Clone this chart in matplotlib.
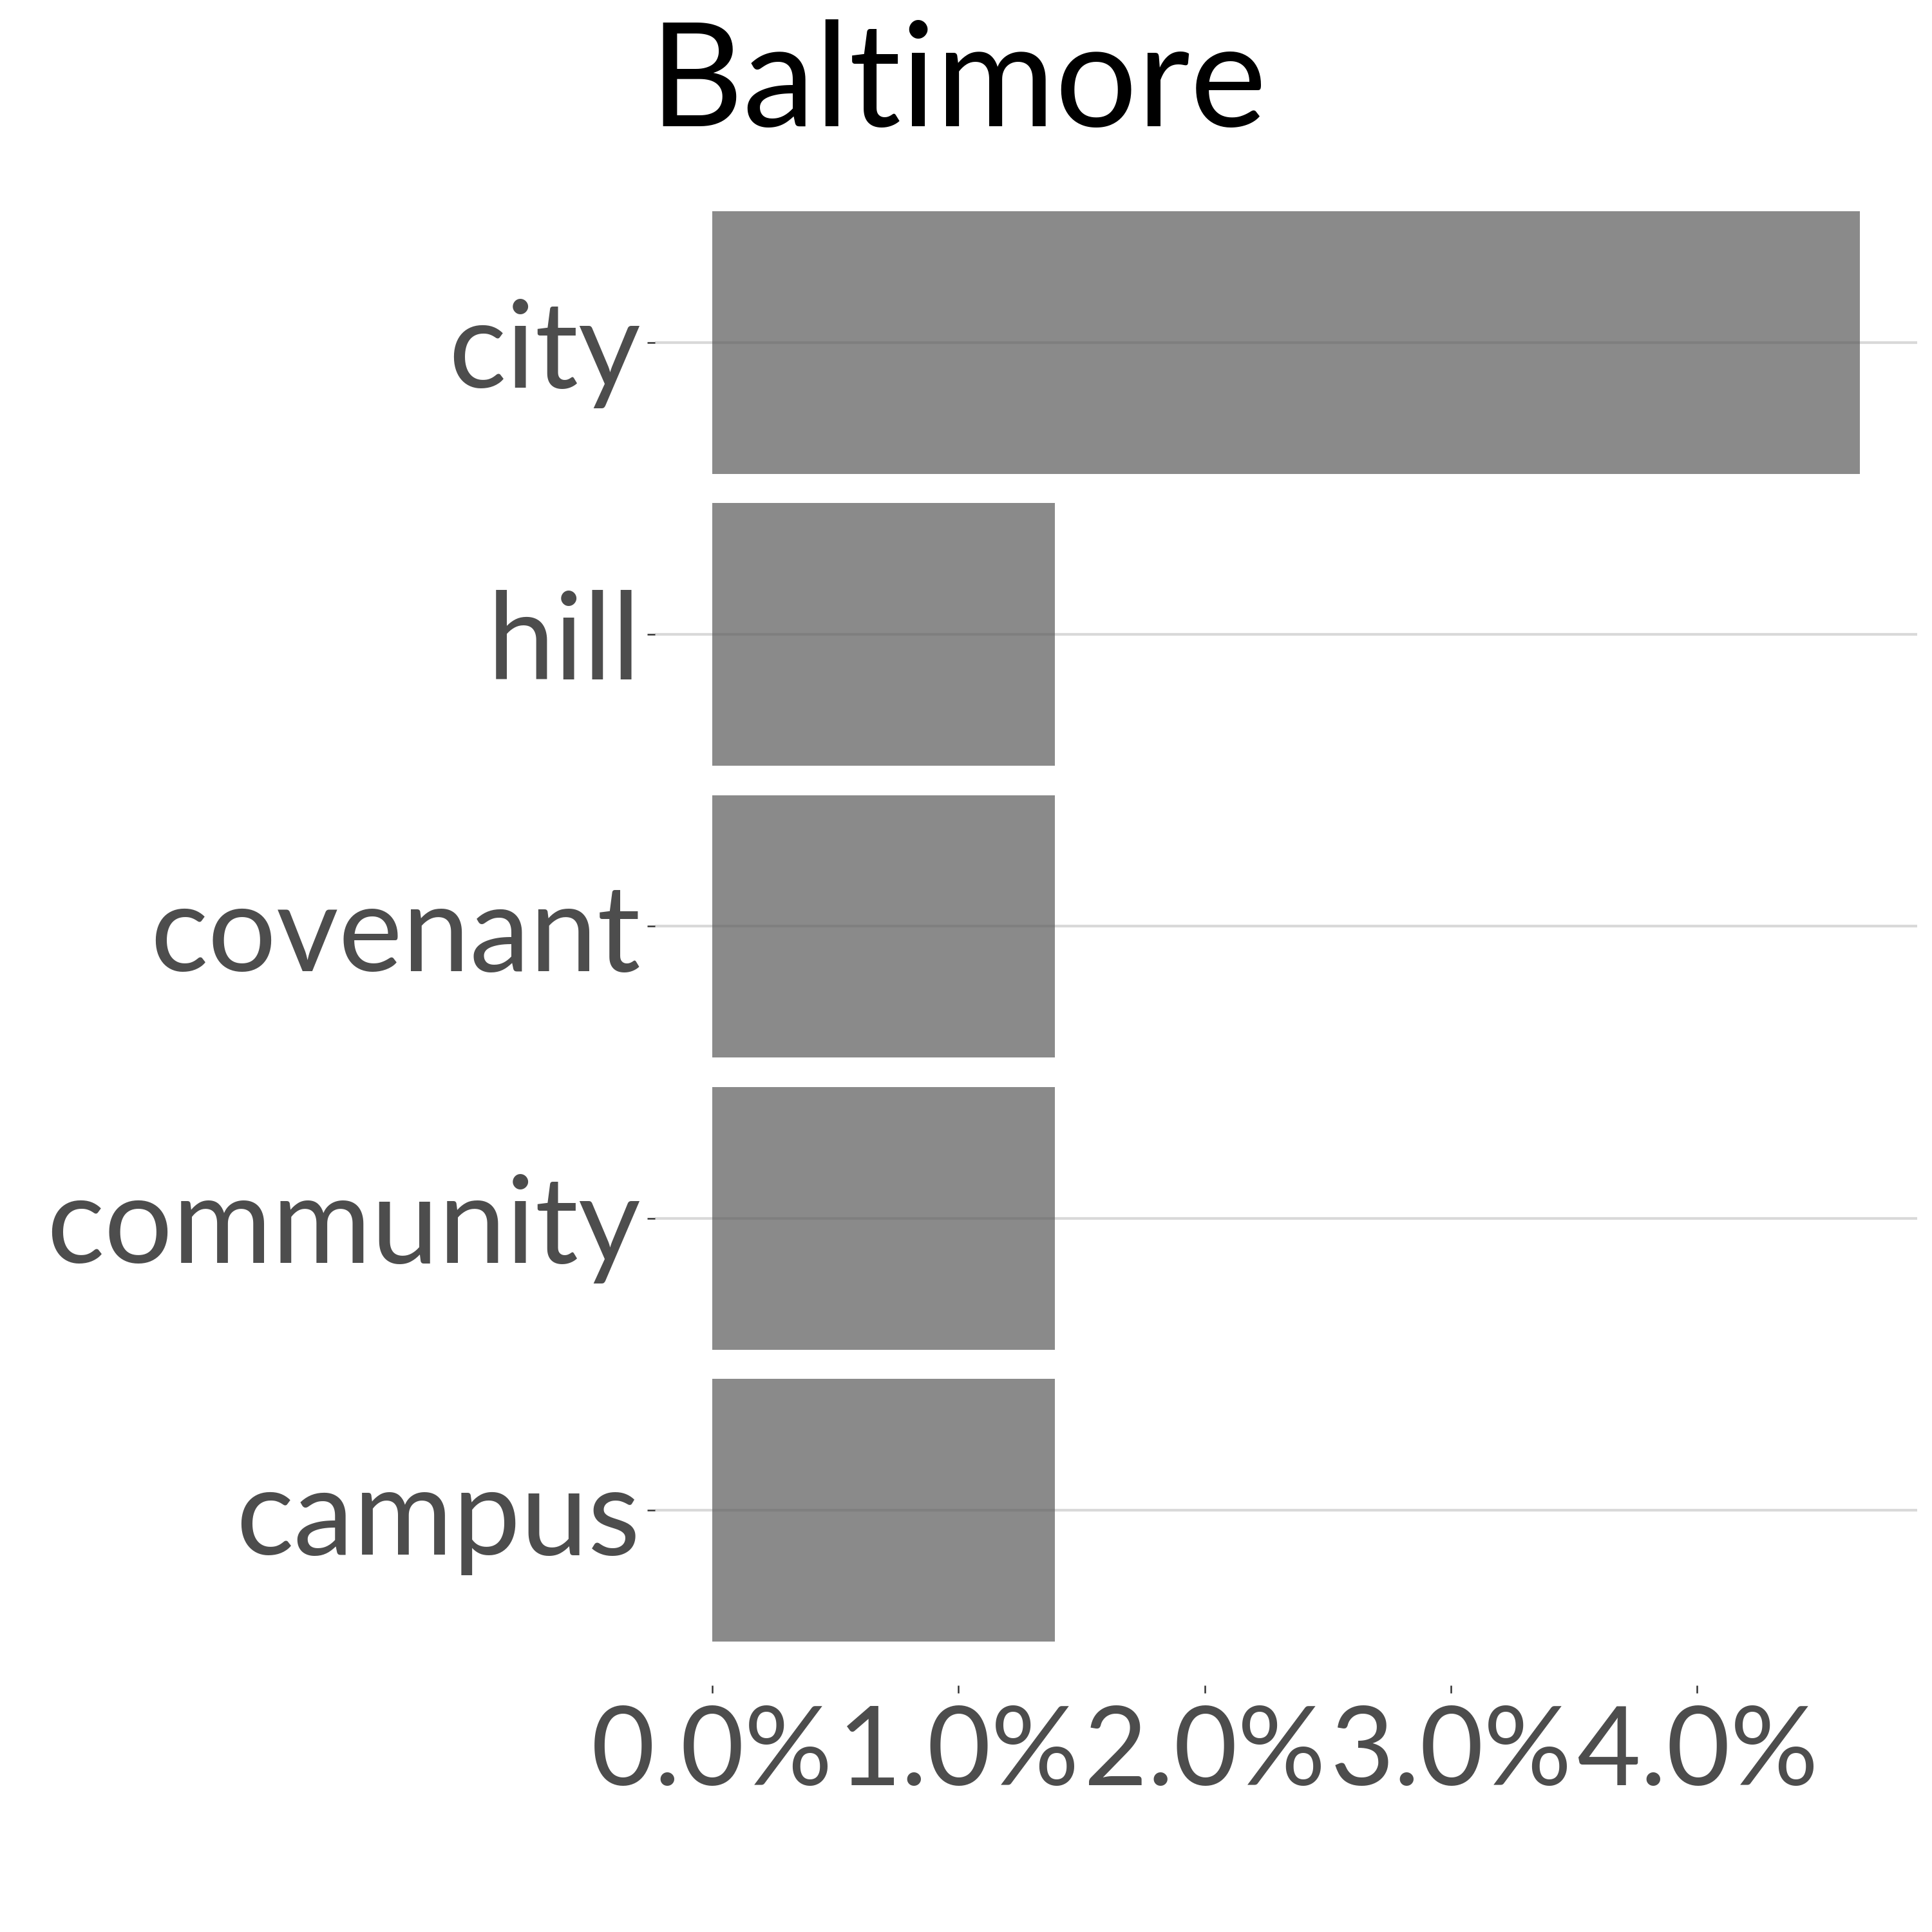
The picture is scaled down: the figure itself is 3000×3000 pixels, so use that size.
import matplotlib
matplotlib.use("Agg")
import matplotlib.pyplot as plt
from matplotlib.ticker import FuncFormatter

# word shares for Baltimore (top to bottom)
words = ["city", "hill", "covenant", "community", "campus"]
shares = [0.0466, 0.0139, 0.0139, 0.0139, 0.0139]
x_ticks = [0.0, 0.01, 0.02, 0.03, 0.04]

plt.rcParams['font.family'] = ['Lato', 'DejaVu Sans']

fig = plt.figure(figsize=(10, 10), dpi=300)
fig.patch.set_facecolor('white')
ax = fig.add_axes([0.339, 0.1277, 0.6533, 0.7856])

ypos = list(range(len(words), 0, -1))
ax.barh(ypos, shares, height=0.9, color='#595959', alpha=0.7, zorder=2)

# ggplot-like expansion
xmax = max(shares)
ax.set_xlim(-0.05 * xmax, 1.05 * xmax)
ax.set_ylim(0.4, len(words) + 0.6)

ax.set_yticks(ypos)
ax.set_yticklabels(words)
ax.set_xticks(x_ticks)
ax.xaxis.set_major_formatter(FuncFormatter(lambda v, p: f"{v * 100:.1f}%"))

ax.grid(axis='y', color='#d9d9d9', linewidth=1.0, zorder=1)
ax.grid(axis='x', visible=False)
ax.set_axisbelow(True)
for s in ax.spines.values():
    s.set_visible(False)

ax.tick_params(axis='y', length=2.9, width=0.6, color='#333333',
               labelsize=45, labelcolor='#4d4d4d', pad=2.5)
ax.tick_params(axis='x', length=2.9, width=0.6, color='#333333',
               labelsize=41, labelcolor='#4d4d4d', pad=4)

fig.text(0.496, 0.99, 'Baltimore', ha='center', va='top',
         fontsize=54, color='black')

fig.savefig('out.png', dpi=300, facecolor='white')
